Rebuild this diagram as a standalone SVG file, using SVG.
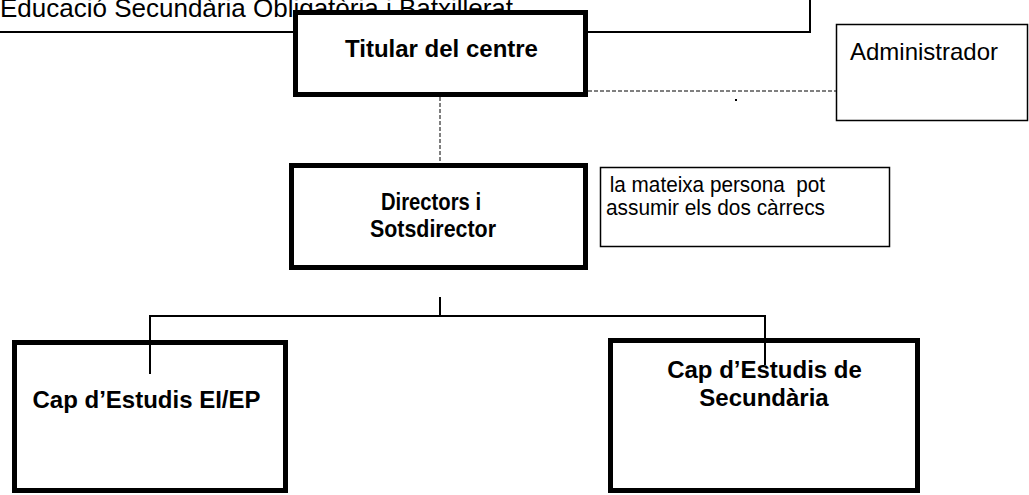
<svg xmlns="http://www.w3.org/2000/svg" width="1029" height="495" viewBox="0 0 1029 495">
<style>
.t{font-family:"Liberation Sans",Arial,sans-serif;fill:#000}
.b{font-weight:bold}
.thick{fill:#fff;stroke:#000;stroke-width:5}
.thin{fill:#fff;stroke:#000;stroke-width:1.5}
.solid{fill:none;stroke:#000;stroke-width:2}
.dash{fill:none;stroke:#000;stroke-width:1;stroke-dasharray:4 2}
</style>
<rect width="1029" height="495" fill="#fff"/>
<g id="header">
<text class="t" x="0" y="17" font-size="26">Educació Secundària Obligatòria i Batxillerat</text>
<path class="solid" d="M0 32H810V0"/>
</g>
<g id="connectors">
<path class="dash" d="M440 97V163"/>
<path class="dash" d="M588 91H836"/>
<rect x="735" y="99" width="2" height="2" fill="#000"/>
</g>
<g id="titular">
<rect class="thick" x="295.5" y="12.5" width="290" height="82"/>
<text class="t b" x="441.5" y="57" font-size="24" text-anchor="middle">Titular del centre</text>
</g>
<g id="administrador">
<rect class="thin" x="836.5" y="24.5" width="191" height="96"/>
<text class="t" x="850" y="60" font-size="24">Administrador</text>
</g>
<g id="directors">
<rect class="thick" x="291.5" y="165.5" width="294" height="102"/>
<text class="t b" x="381" y="210" font-size="24" textLength="100" lengthAdjust="spacingAndGlyphs">Directors i</text>
<text class="t b" x="370" y="237" font-size="24" textLength="126" lengthAdjust="spacingAndGlyphs">Sotsdirector</text>
</g>
<g id="nota">
<rect class="thin" x="600.5" y="167.5" width="289" height="79"/>
<text class="t" x="604" y="192" font-size="22" xml:space="preserve" textLength="221" lengthAdjust="spacingAndGlyphs"> la mateixa persona  pot</text>
<text class="t" x="606" y="215" font-size="22" textLength="219" lengthAdjust="spacingAndGlyphs">assumir els dos càrrecs</text>
</g>
<g id="cap-ei-ep">
<rect class="thick" x="14.5" y="342.5" width="271" height="148"/>
<text class="t b" x="146.5" y="408" font-size="24" text-anchor="middle">Cap d’Estudis EI/EP</text>
</g>
<g id="cap-secundaria">
<rect class="thick" x="610.5" y="340.5" width="307" height="150"/>
<text class="t b" x="764.5" y="378" font-size="24" text-anchor="middle">Cap d’Estudis de</text>
<text class="t b" x="764" y="406" font-size="24" text-anchor="middle">Secundària</text>
</g>
<g id="connectors-tree">
<path class="solid" d="M440 297V316"/>
<path class="solid" d="M150 374V316H765V365"/>
</g>
</svg>
